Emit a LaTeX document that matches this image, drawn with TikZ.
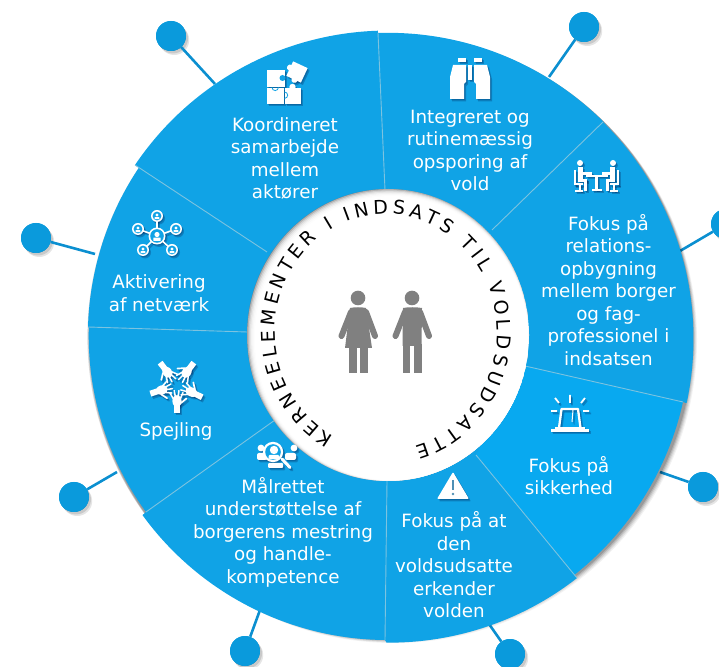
\documentclass[tikz,border=0pt]{standalone}
\usepackage{fontspec}
\setmainfont{DejaVu Sans}
\usetikzlibrary{decorations.text,calc}
\definecolor{seg}{HTML}{10A3E6}
\definecolor{segb}{HTML}{08A9F0}
\definecolor{dotc}{HTML}{0A9ADC}
\definecolor{linec}{HTML}{0B8FD0}
\definecolor{divc}{HTML}{7CC3E0}
\definecolor{persc}{HTML}{808080}
\definecolor{warnc}{HTML}{4F8FB5}
\tikzset{
 wedge/.style={fill=seg,draw=none},
 divider/.style={draw=divc,line width=0.9pt},
 label/.style={text=white,align=center,font=\fontsize{18.3}{22.5}\selectfont,inner sep=0pt},
 dotn/.style={circle,fill=dotc,minimum size=30pt,inner sep=0pt},
 spoke/.style={draw=linec,line width=2.6pt},
 ic/.style={line cap=round,line join=round},
}
\newcommand\withshadow[1]{%
 \begin{scope}[shift={(2,-2.5)},opacity=.22,fill=black!80!blue,draw=black!80!blue]#1\end{scope}%
 \begin{scope}[shift={(1,-1.2)},opacity=.18,fill=black!80!blue,draw=black!80!blue]#1\end{scope}%
 \begin{scope}[fill=white,draw=white]#1\end{scope}}
\begin{document}
\begin{tikzpicture}[x=1pt,y=1pt]
\useasboundingbox (0,0) rectangle (719,666);
\clip (0,0) rectangle (719,666);
% anchor points of the ring
\coordinate (iA) at (385,476); \coordinate (oA) at (378,633);
\coordinate (iB) at (492,436); \coordinate (oB) at (603,544);
\coordinate (iC) at (525,300); \coordinate (oC) at (683,264);
\coordinate (iD) at (476,211); \coordinate (oD) at (577,88);
\coordinate (iE) at (387,185); \coordinate (oE) at (385,26);
\coordinate (iF) at (275,246); \coordinate (oF) at (146,154);
\coordinate (iG) at (247,334); \coordinate (oG) at (88,339);
\coordinate (iH) at (267,414); \coordinate (oH) at (135,501);
% spokes and dots
\coordinate (s1) at (215,582); \node[dotn] (d1) at (171,630) {};
\coordinate (s2) at (549,589); \node[dotn] (d2) at (584,639) {};
\coordinate (s3) at (680,415); \node[dotn] (d3) at (726,442) {};
\coordinate (s4) at (660,194); \node[dotn] (d4) at (703,179) {};
\coordinate (s5) at (489,42);  \node[dotn] (d5) at (510,12) {};
\coordinate (s6) at (260,56);  \node[dotn] (d6) at (245,15) {};
\coordinate (s7) at (117,194); \node[dotn] (d7) at (74,169) {};
\coordinate (s8) at (95,412);  \node[dotn] (d8) at (36,428) {};
\foreach \n in {1,...,8}{\fill[black,opacity=.12] ($(d\n)+(2,-2.5)$) circle[radius=15];
  \fill[black,opacity=.10] ($(d\n)+(3.2,-4)$) circle[radius=15];
  \draw[spoke] (s\n) -- (d\n);
  \node[dotn] at (d\n) {};}
% ring shadow
\foreach \k/\o in {5/.05,4/.07,3/.09,2/.12,1/.15}{\fill[black,opacity=\o] (389.5+\k*.9,330-\k*.8) circle[radius=303];}
\fill[seg] (388,331) circle[radius=175];
% sectors
\fill[wedge] (iH) -- (oH) arc[start angle=146,end angle=91.9,radius=305pt] -- (oA) -- (iA) -- cycle;
\fill[wedge] (iA) -- (oA) arc[start angle=91.9,end angle=44.9,radius=305pt] -- (oB) -- (iB) -- cycle;
\fill[wedge] (iB) -- (oB) arc[start angle=45.3,end angle=-12.2,radius=305pt] -- (oC) -- (iC) -- cycle;
\fill[wedge,fill=segb] (iC) -- (oC) arc[start angle=-12.6,end angle=-52,radius=305pt] -- (oD) -- (iD) -- cycle;
\fill[wedge] (iD) -- (oD) arc[start angle=-52,end angle=-90.5,radius=305pt] -- (oE) -- (iE) -- cycle;
\fill[wedge] (iE) -- (oE) arc[start angle=-90.5,end angle=-144,radius=303pt] -- (oF) -- (iF) -- cycle;
\fill[wedge] (iF) -- (oF) arc[start angle=216,end angle=178.3,radius=300pt] -- (oG) -- (iG) -- cycle;
\fill[wedge] (iG) -- (oG) arc[start angle=178.3,end angle=146,radius=303pt] -- (oH) -- (iH) -- cycle;
% dividers
\foreach \n in {A,B,C,D,E,F,G,H}{\draw[divider] (i\n) -- (o\n);}
% inner disc with inner shadow
\begin{scope}
\clip (388,331) ellipse[x radius=141,y radius=146];
\fill[black!65] (388,331) ellipse[x radius=141,y radius=146];
\foreach \k/\o in {0/.3,1/.35,2/.4,3/.45,4/.5,5/.6,6/.7,7/1}{\fill[white,opacity=\o] (388+\k*.5,331-\k*.45) ellipse[x radius=142-\k*.75,y radius=147-\k*.7];}
\end{scope}
% ring text
\path[decorate,decoration={text along path,raise=0pt,text align={fit to path},
  text={|\fontsize{19}{19}\selectfont|KERNEELEMENTER I INDSATS TIL VOLDSUDSATTE}}]
  (386,334) ++(242:111pt and 118pt) arc[start angle=242,end angle=-75,x radius=111pt,y radius=118pt];
% persons
\begin{scope}[fill=persc,draw=persc,ic]
\fill (358,368) circle[radius=7.3];
\fill (350,358) .. controls (355,359) and (361,359) .. (366,358) -- (372,318) -- (345,318) -- cycle;
\fill (349,293) rectangle (357.2,319);
\fill (360,293) rectangle (368,319);
\draw[line width=6pt] (351,354) -- (341.5,330);
\draw[line width=6pt] (366,354) -- (375,330);
\fill (412,368) circle[radius=7.3];
\fill (403,358) .. controls (408,359) and (416,359) .. (422,358) -- (421.5,320) -- (402.5,320) -- cycle;
\fill (402.5,293) rectangle (409.5,322);
\fill (413.5,293) rectangle (421.5,322);
\draw[line width=6pt] (405,354) -- (395.5,330);
\draw[line width=6pt] (420,354) -- (429,330);
\end{scope}
% puzzle icon
\withshadow{
 \fill (267,579.2) rectangle (284.5,596);
 \fill (267,562) rectangle (284,578.4);
 \fill (285,562) rectangle (301,578.4);
 \fill (292.5,579) circle[radius=3.2];
 \begin{scope}[shift={(297,594)},rotate=-25]
 \fill (-8,-8) rectangle (8,8);
 \fill (-8,1) circle[radius=3.2];
 \fill (1,-8) circle[radius=3.2];
 \end{scope}
}
\fill[seg] (282.5,588) circle[radius=3];
\fill[seg] (280,587) rectangle (284.6,589);
\draw[seg,line width=.8pt] (272,578.6) arc[start angle=180,end angle=360,radius=3.2];
\draw[seg,line width=.8pt] (284.5,574) arc[start angle=90,end angle=-90,radius=3.2];
% binoculars icon
\withshadow{
 \fill (453,601) -- (466,601) -- (466,584) -- (464,582) -- (464,567) -- (450,567) -- (450,589) -- cycle;
 \fill (487,601) -- (474,601) -- (474,584) -- (476,582) -- (476,567) -- (490,567) -- (490,589) -- cycle;
 \fill (458,604) rectangle (466,608);
 \fill (474,604) rectangle (482,608);
 \fill (468,586) rectangle (472,601);
}
% meeting icon
\withshadow{
 \foreach \s in {1,-1}{
 \begin{scope}[shift={(596.5,0)},xscale=\s]
 \fill (-16.5,503) circle[radius=3];
 \fill (-18.5,486) rectangle (-13.5,499);
 \fill (-13.5,491) rectangle (-5,494);
 \fill (-18.5,484) rectangle (-9.5,487);
 \fill (-12.5,475) rectangle (-9.5,487);
 \fill (-22.5,481) rectangle (-20.5,496);
 \fill (-22.5,480.5) rectangle (-13.5,482.5);
 \fill (-18,475) rectangle (-16,481);
 \fill (-21.5,474) rectangle (-13.5,476);
 \end{scope}}
 \fill (585.5,489) rectangle (607.5,491);
 \fill (595.3,476) rectangle (597.7,489);
 \fill (591.5,475) rectangle (601.5,477);
}
% network icon
\withshadow{
 \draw[line width=1.6pt] (157,430) -- (157,450) (157,430) -- (176,437) (157,430) -- (138,437) (157,430) -- (143,416) (157,430) -- (172,416);
 \fill (157,430) circle[radius=8.5];
 \fill (157,450) circle[radius=6];
 \fill (176,437) circle[radius=6];
 \fill (138,437) circle[radius=6];
 \fill (143,416) circle[radius=6];
 \fill (172,416) circle[radius=6];
}
\foreach \x/\y/\r in {157/430/6.8,157/450/4.4,176/437/4.4,138/437/4.4,143/416/4.4,172/416/4.4}{
 \fill[seg] (\x,\y) circle[radius=\r];
 \fill[white] (\x,\y+.22*\r) circle[radius=.38*\r];
 \fill[white,rounded corners=.5pt] (\x-.55*\r,\y-.72*\r) rectangle (\x+.55*\r,\y-.25*\r);
}
% hands icon
\withshadow{
 \foreach \a in {270,334,53,127,198}{
 \begin{scope}[shift={(177,281)},rotate=\a,ic]
  \fill (18,-3) rectangle (28,3);
  \fill (16,0) ellipse[x radius=6,y radius=4.6];
  \draw[line width=1.5pt] (14,-3.6) -- (8,-7) (13,-1.4) -- (5.5,-2.8) (13,1) -- (5.5,2) (14,3.2) -- (7.5,6);
  \draw[line width=1.7pt] (18,4) -- (13.5,9.5);
 \end{scope}}
}
% search person icon
\withshadow{
 \fill (261,218) circle[radius=3.4];
 \fill[rounded corners=2pt] (257,206) rectangle (267,213);
 \fill (294,218) circle[radius=3.4];
 \fill[rounded corners=2pt] (285,206) rectangle (296,213);
 \fill (273,214) circle[radius=10.2];
 \fill[rounded corners=1pt] (268,198) rectangle (283,203);
 \draw[line width=3pt,line cap=round] (282,207) -- (290,198.5);
}
\fill[seg] (273,214) circle[radius=7.8];
\fill[white] (274,216) circle[radius=4.2];
\fill[white,rounded corners=1pt] (268.5,207) rectangle (279,211);
% warning icon
\withshadow{
 \fill[rounded corners=1pt] (437,167) -- (469,167) -- (453,194) -- cycle;
}
\draw[warnc,line width=1.8pt] (453,186) -- (453,176);
\fill[warnc] (453,172) circle[radius=1.4];
% beacon icon
\withshadow{
 \draw[line width=2.3pt,line join=round] (559,238) -- (561.5,257) -- (578,257) -- (580.5,238);
 \fill (551,234) rectangle (589,237);
 \fill (555,237) rectangle (585,239);
 \draw[line width=1.8pt] (570,263) -- (570,271)
    (551,255) -- (557,255) (583,255) -- (589,255)
    (555,268) -- (559,263) (585,268) -- (581,263);
 \draw[line width=1pt] (573,256) -- (572,244);
}
% labels
\node[label] (t1) at (285,507.5) {Koordineret\\samarbejde\\mellem\\aktører};
\node[label] (t2) at (470,515.5) {Integreret og\\rutinemæssig\\opsporing af\\vold};
\node[label] (t3) at (608.5,376) {Fokus på\\relations-\\opbygning\\mellem borger\\og fag-\\professionel i\\indsatsen};
\node[label] (t4) at (159,373) {Aktivering\\af netværk};
\node[label] (t5) at (176,235) {Spejling};
\node[label] (t6) at (283,134) {Målrettet\\understøttelse af\\borgerens mestring\\og handle-\\kompetence};
\node[label] (t7) at (454,101) {Fokus på at\\den\\voldsudsatte\\erkender\\volden};
\node[label] (t8) at (569,190.5) {Fokus på\\sikkerhed};
\end{tikzpicture}
\end{document}
